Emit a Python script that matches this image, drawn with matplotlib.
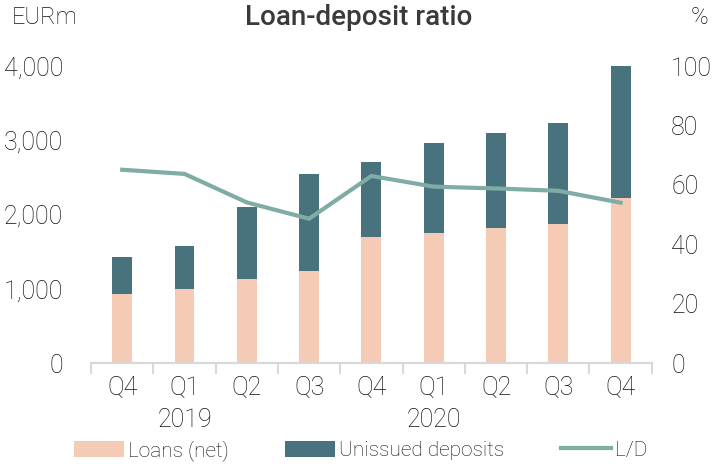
import matplotlib.pyplot as plt
import numpy as np

trimestres = ['Q4', 'Q1', 'Q2', 'Q3', 'Q4', 'Q1', 'Q2', 'Q3', 'Q4']
anios = ['2019', '2020']
prestamos = [935, 1003, 1131, 1239, 1700, 1753, 1818, 1872, 2222]
depositos_totales = [1435, 1578, 2096, 2548, 2712, 2968, 3100, 3232, 4015]
ratio_ld = [65.1, 63.7, 54.1, 48.6, 63.0, 59.4, 58.8, 58.0, 54.0]

no_emitidos = [t - p for t, p in zip(depositos_totales, prestamos)]

color_prestamos = '#F5CBB5'
color_depositos = '#48727E'
color_linea = '#7FADA5'
color_texto = '#111111'

plt.rcParams['font.family'] = ['Roboto', 'DejaVu Sans']
plt.rcParams['font.weight'] = 'light'

fig = plt.figure(figsize=(7.17, 4.69), dpi=100)
ax = fig.add_axes([0.127, 0.226, 0.782, 0.633])
ax2 = ax.twinx()

x = np.arange(len(trimestres))
ancho = 0.32
b1 = ax.bar(x, prestamos, width=ancho, color=color_prestamos, label='Loans (net)')
b2 = ax.bar(x, no_emitidos, width=ancho, bottom=prestamos, color=color_depositos,
            label='Unissued deposits')
l1, = ax2.plot(x, ratio_ld, color=color_linea, linewidth=3, label='L/D')

ax.set_xlim(-0.5, len(trimestres) - 0.5)
ax.set_ylim(0, 4000)
ax2.set_ylim(0, 100)
ax.set_yticks(range(0, 4001, 1000))
ax.set_yticklabels(['0', '1,000', '2,000', '3,000', '4,000'])
ax2.set_yticks(range(0, 101, 20))

for a in (ax, ax2):
    for s in ['top', 'left', 'right']:
        a.spines[s].set_visible(False)
    a.spines['bottom'].set_color('#D9D9D9')
    a.spines['bottom'].set_linewidth(1.5)
    a.tick_params(axis='y', length=0, labelsize=18, labelcolor=color_texto)
ax.tick_params(axis='y', pad=20)
ax2.tick_params(axis='y', pad=14)

ax.set_xticks(x)
ax.set_xticklabels(trimestres, fontsize=18, color=color_texto)
ax.tick_params(axis='x', length=0, pad=9)
ax.set_xticks(np.arange(-0.5, len(trimestres), 1), minor=True)
ax.tick_params(axis='x', which='minor', length=8, width=1.5, color='#D9D9D9')

ax.text(1, -0.15, anios[0], transform=ax.get_xaxis_transform(), ha='center', va='top',
        fontsize=18, color=color_texto)
ax.text(5, -0.15, anios[1], transform=ax.get_xaxis_transform(), ha='center', va='top',
        fontsize=18, color=color_texto)

fig.text(0.5, 0.962, 'Loan-deposit ratio', ha='center', va='center', fontsize=20,
         fontweight='medium', color='#3a3a3a')
fig.text(0.017, 0.962, 'EURm', ha='left', va='center', fontsize=17, color=color_texto)
fig.text(0.975, 0.962, '%', ha='center', va='center', fontsize=17, color=color_texto)

fig.legend([b1, b2, l1], ['Loans (net)', 'Unissued deposits', 'L/D'],
           loc='center', bbox_to_anchor=(0.503, 0.04), ncol=3, frameon=False,
           fontsize=15, handlelength=2.4, handleheight=0.8, columnspacing=2.7,
           handletextpad=0.2, labelcolor=color_texto)

fig.savefig('out.png', dpi=100)
